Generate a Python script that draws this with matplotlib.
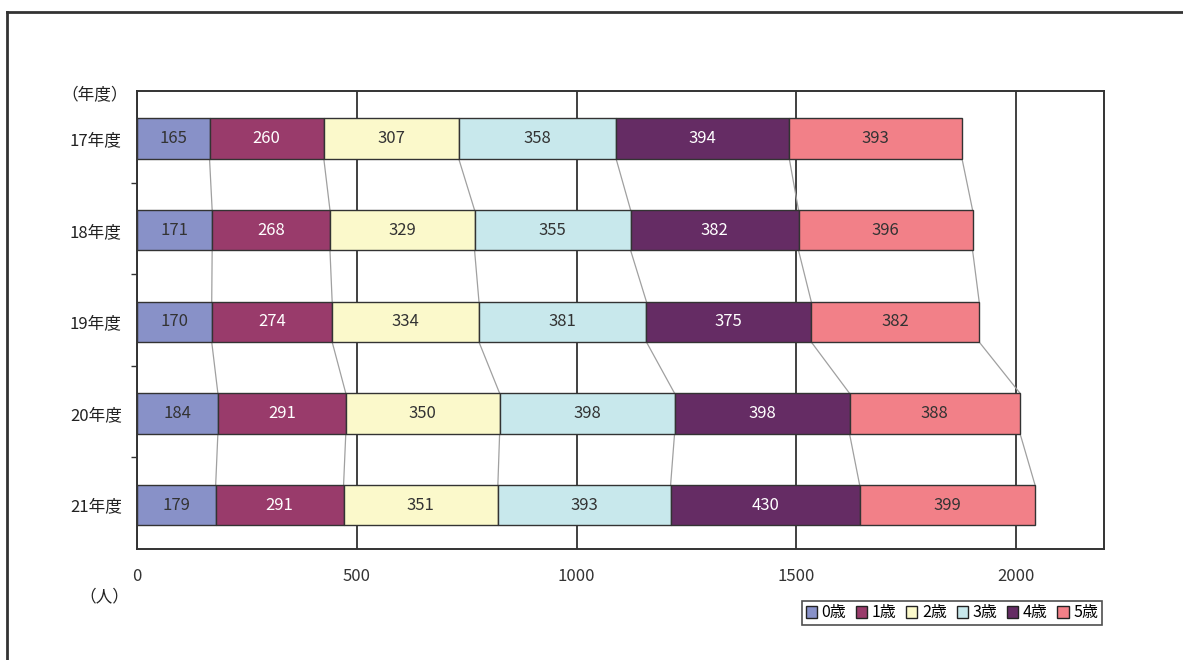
import numpy as np
import matplotlib.pyplot as plt
from matplotlib.lines import Line2D
from matplotlib.patches import Patch

plt.rcParams['font.family'] = ['Noto Sans CJK JP', 'DejaVu Sans']

# -----------------------------
# データ
# -----------------------------
years = ["17年度", "18年度", "19年度", "20年度", "21年度"]
ages = ["0歳", "1歳", "2歳", "3歳", "4歳", "5歳"]
age0 = [165, 171, 170, 184, 179]
age1 = [260, 268, 274, 291, 291]
age2 = [307, 329, 334, 350, 351]
age3 = [358, 355, 381, 398, 393]
age4 = [394, 382, 375, 398, 430]
age5 = [393, 396, 382, 388, 399]
x_ticks = [0, 500, 1000, 1500, 2000]

colors = ["#8891c8", "#993b6b", "#fbf9cb", "#c8e8ec", "#652c64", "#f28088"]
text_colors = ["#333333", "white", "#333333", "#333333", "white", "#333333"]

series = np.array([age0, age1, age2, age3, age4, age5])
cum = np.vstack([np.zeros(len(years)), np.cumsum(series, axis=0)])

# -----------------------------
# プロット
# -----------------------------
fig = plt.figure(figsize=(11.83, 6.6), dpi=100)
ax = fig.add_axes([137 / 1183, 1 - 549 / 660, (1104 - 137) / 1183, (549 - 91) / 660])

ypos = np.arange(len(years))
bar_h = 0.44

for i in range(len(ages)):
    ax.barh(ypos + 0.02, series[i], left=cum[i], height=bar_h, color=colors[i],
            edgecolor="#333333", linewidth=1, zorder=3)
    for j in range(len(years)):
        ax.text(cum[i][j] + series[i][j] / 2, ypos[j] + 0.02, str(series[i][j]),
                ha="center", va="center", fontsize=12, color=text_colors[i], zorder=4)

# 系列線
for k in range(1, len(ages) + 1):
    for j in range(len(years) - 1):
        ax.plot([cum[k][j], cum[k][j + 1]],
                [ypos[j] + 0.02 + bar_h / 2, ypos[j + 1] + 0.02 - bar_h / 2],
                color="#a0a0a0", linewidth=0.9, zorder=2)

ax.set_xlim(0, 2200)
ax.set_ylim(len(years) - 0.5, -0.5)
ax.set_xticks(x_ticks)
ax.set_xticklabels([str(v) for v in x_ticks])
ax.set_yticks(ypos + 0.02)
ax.set_yticklabels(years)
ax.set_yticks(np.arange(0.5, len(years) - 0.5), minor=True)
ax.tick_params(axis="x", length=0, pad=14, labelsize=12, colors="#333333")
ax.tick_params(axis="y", which="major", length=0, pad=11, labelsize=12, colors="#222222")
ax.tick_params(axis="y", which="minor", length=4, width=1, color="#333333", direction="out")
ax.xaxis.grid(True, color="#404040", linewidth=1.4, zorder=1)
ax.set_axisbelow(True)
for sp in ax.spines.values():
    sp.set_color("#333333")
    sp.set_linewidth(1.4)

fig.text(95 / 1183, 1 - 96 / 660, "（年度）", ha="center", va="center", fontsize=12, color="#222222")
fig.text(104 / 1183, 1 - 597 / 660, "（人）", ha="center", va="center", fontsize=12, color="#222222")

handles = [Patch(facecolor=c, edgecolor="#222222", linewidth=1) for c in colors]
leg = fig.legend(handles, ages, loc="center", bbox_to_anchor=(952 / 1183, 1 - 613 / 660),
                 ncol=6, frameon=True, fancybox=False, edgecolor="#222222",
                 handlelength=0.7, handleheight=0.7, handletextpad=0.3, columnspacing=0.6,
                 borderpad=0.25, borderaxespad=0, fontsize=11.5)
leg.get_frame().set_linewidth(1.2)

# 外枠
fig.add_artist(Line2D([7 / 1183, 1], [1 - 12 / 660, 1 - 12 / 660], color="#333333", linewidth=2,
                      transform=fig.transFigure))
fig.add_artist(Line2D([7 / 1183, 7 / 1183], [0, 1 - 12 / 660], color="#333333", linewidth=2,
                      transform=fig.transFigure))

fig.savefig("out.png", dpi=100)
